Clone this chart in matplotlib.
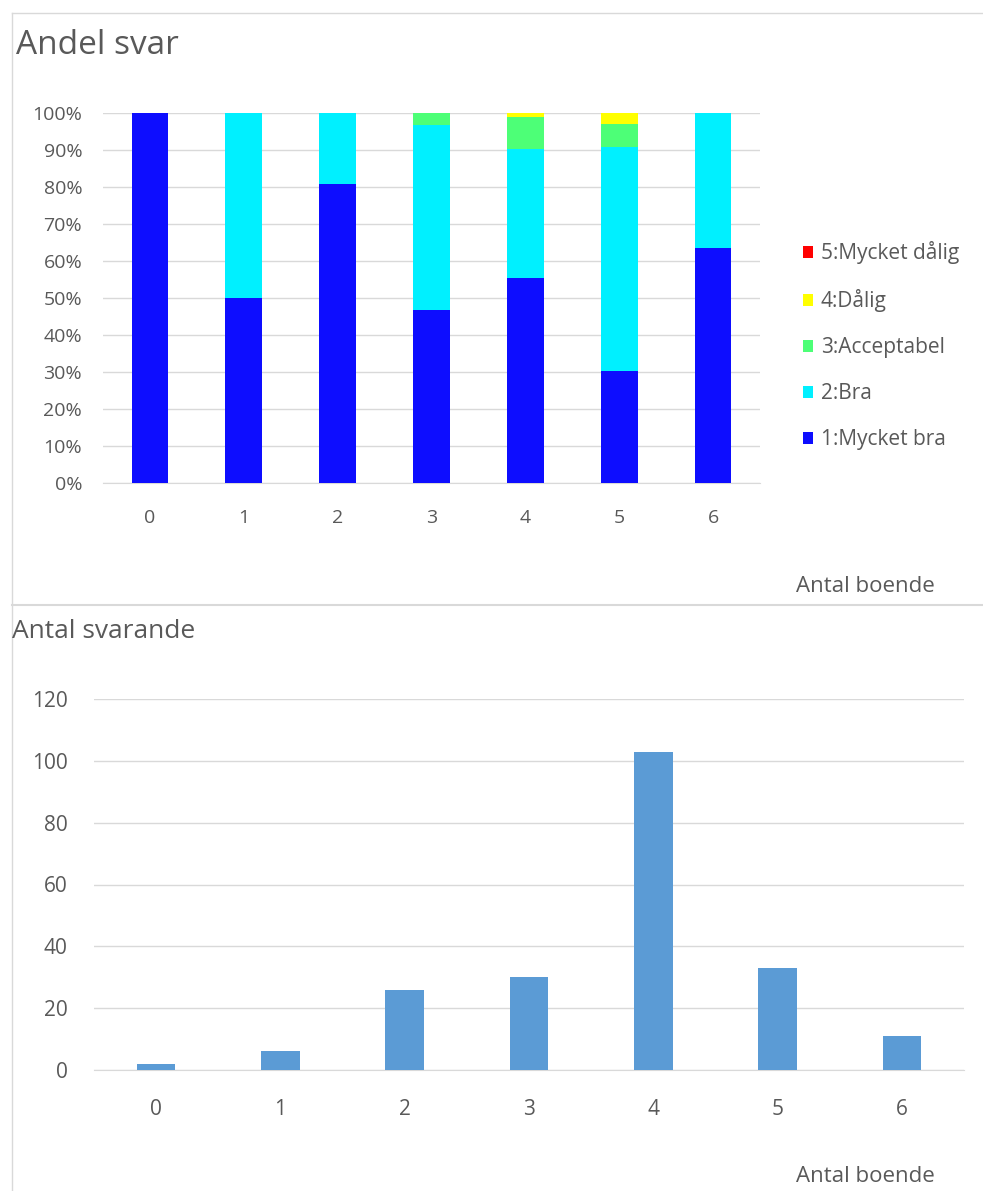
import numpy as np
import matplotlib.pyplot as plt
from matplotlib.lines import Line2D
from matplotlib.patches import Patch

plt.rcParams['font.family'] = ['Open Sans', 'DejaVu Sans']

# data
categories = ['0', '1', '2', '3', '4', '5', '6']
mycket_bra = [100.0, 50.0, 80.8, 46.7, 55.3, 30.3, 63.6]
bra = [0.0, 50.0, 19.2, 50.0, 35.0, 60.6, 36.4]
acceptabel = [0.0, 0.0, 0.0, 3.3, 8.7, 6.1, 0.0]
dalig = [0.0, 0.0, 0.0, 0.0, 1.0, 3.0, 0.0]
mycket_dalig = [0.0, 0.0, 0.0, 0.0, 0.0, 0.0, 0.0]
share_labels = ['1:Mycket bra', '2:Bra', '3:Acceptabel', '4:Dålig', '5:Mycket dålig']
share_colors = ['#0D0DFF', '#00F0FF', '#4DFF77', '#FFFF00', '#FF0000']
antal_svarande = [2, 6, 26, 30, 103, 33, 11]

W, H = 983, 1191
text_col = '#595959'
grid_col = '#D9D9D9'

fig = plt.figure(figsize=(W / 100, H / 100), dpi=100)

def fx(px):
    return px / W

def fy(py):
    return 1 - py / H

# frame lines like the Excel chart areas
fig.add_artist(Line2D([fx(12), 1], [fy(13), fy(13)], color=grid_col, lw=1))
fig.add_artist(Line2D([fx(12), fx(12)], [fy(13), 0], color=grid_col, lw=1))
fig.add_artist(Line2D([fx(12), 1], [fy(605), fy(605)], color=grid_col, lw=1.5))

# top chart: share of answers
ax1 = fig.add_axes([fx(103), fy(483), fx(760) - fx(103), fy(113) - fy(483)])
x = np.arange(len(categories))
series = [mycket_bra, bra, acceptabel, dalig, mycket_dalig]
bottom = np.zeros(len(categories))
handles = []
for vals, lab, col in zip(series, share_labels, share_colors):
    ax1.bar(x, vals, width=0.39, bottom=bottom, color=col, label=lab, zorder=3)
    bottom += np.array(vals)
    handles.append(Patch(facecolor=col, label=lab))
ax1.set_xlim(-0.5, 6.5)
ax1.set_ylim(0, 100)
ax1.set_yticks(np.arange(0, 101, 10))
ax1.set_yticklabels([f'{v}%' for v in range(0, 101, 10)])
ax1.set_xticks(x)
ax1.set_xticklabels(categories)
ax1.grid(axis='y', color=grid_col, lw=1, zorder=0)
for s in ['top', 'right', 'left']:
    ax1.spines[s].set_visible(False)
ax1.spines['bottom'].set_color(grid_col)
ax1.tick_params(axis='both', length=0, colors=text_col, labelsize=14)
ax1.tick_params(axis='y', pad=15)
ax1.tick_params(axis='x', pad=19)

fig.text(fx(16), fy(45), 'Andel svar', fontsize=24, color=text_col, va='center', ha='left')
fig.text(fx(935), fy(587), 'Antal boende', fontsize=16, color=text_col, va='center', ha='right')

leg = fig.legend(handles=handles[::-1], loc='upper left',
                 bbox_to_anchor=(fx(803), fy(241)), frameon=False,
                 fontsize=15, labelcolor=text_col, handlelength=0.5,
                 handleheight=0.5, handletextpad=0.35, labelspacing=1.2,
                 borderaxespad=0, borderpad=0)

# bottom chart: number of respondents
ax2 = fig.add_axes([fx(94), fy(1070), fx(964) - fx(94), fy(699) - fy(1070)])
ax2.bar(x, antal_svarande, width=0.31, color='#5B9BD5', zorder=3)
ax2.set_xlim(-0.5, 6.5)
ax2.set_ylim(0, 120)
ax2.set_yticks(np.arange(0, 121, 20))
ax2.set_xticks(x)
ax2.set_xticklabels(categories)
ax2.grid(axis='y', color=grid_col, lw=1, zorder=0)
for s in ['top', 'right', 'left']:
    ax2.spines[s].set_visible(False)
ax2.spines['bottom'].set_color(grid_col)
ax2.tick_params(axis='both', length=0, colors=text_col, labelsize=15)
ax2.tick_params(axis='y', pad=19)
ax2.tick_params(axis='x', pad=21)

fig.text(fx(12), fy(631), 'Antal svarande', fontsize=19, color=text_col, va='center', ha='left')
fig.text(fx(935), fy(1177), 'Antal boende', fontsize=16, color=text_col, va='center', ha='right')

fig.savefig('out.png', dpi=100)
